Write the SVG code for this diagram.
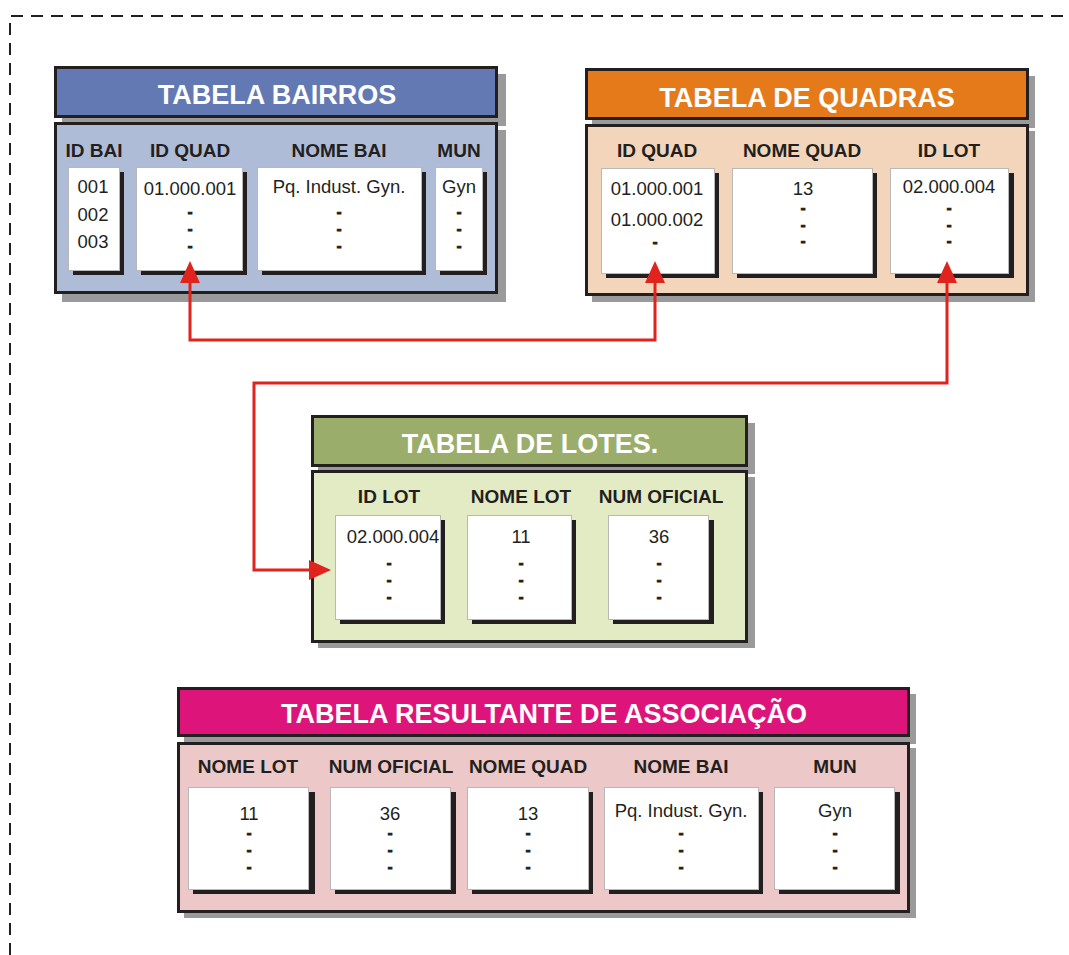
<svg xmlns="http://www.w3.org/2000/svg" width="1069" height="955" viewBox="0 0 1069 955">
<style>
.bg{fill:#ffffff}
.border{fill:none;stroke:#231f20;stroke-width:2;stroke-dasharray:12 8}
.sh{fill:#9a9a9a}
.frame{stroke:#231f20;stroke-width:3}
.title{font-family:"Liberation Sans",Arial,sans-serif;font-weight:bold;font-size:27px;fill:#ffffff;text-anchor:middle}
.hdr{font-family:"Liberation Sans",Arial,sans-serif;font-weight:bold;font-size:19px;fill:#231f20;text-anchor:middle}
.val{font-family:"Liberation Sans",Arial,sans-serif;font-size:18.5px;fill:#231f20;text-anchor:middle}
.dash{font-family:"Liberation Sans",Arial,sans-serif;font-weight:bold;font-size:14px;fill:#231f20;stroke:#231f20;stroke-width:1;text-anchor:middle}
.cell{fill:#ffffff;stroke:#b8b8b8;stroke-width:1}
.csh{fill:#231f20}
.link{fill:none;stroke:#e0231c;stroke-width:3;marker-start:url(#ah);marker-end:url(#ah)}
</style>
<defs>
<marker id="ah" markerUnits="userSpaceOnUse" markerWidth="22" markerHeight="20" refX="12" refY="10" orient="auto-start-reverse" viewBox="0 0 22 20">
<path d="M0,0 L22,10 L0,20 Z" fill="#e0231c"/>
</marker>
</defs>
<rect class="bg" x="0" y="0" width="1069" height="955"/>
<path class="border" d="M10,955 V16 H1069"/>

<g id="tabela-bairros">
<rect class="sh" x="62" y="74" width="444" height="52"/>
<rect class="sh" x="62" y="130" width="444" height="172"/>
<rect class="frame" x="55.5" y="67.5" width="441" height="49" fill="#6379b4"/>
<rect class="frame" x="55.5" y="123.5" width="441" height="169" fill="#afbcd8"/>
<text class="title" x="277" y="104">TABELA BAIRROS</text>
<text class="hdr" x="94" y="157">ID BAI</text>
<text class="hdr" x="190" y="157">ID QUAD</text>
<text class="hdr" x="339" y="157">NOME BAI</text>
<text class="hdr" x="459" y="157">MUN</text>
<rect class="csh" x="73" y="172" width="51" height="103"/>
<rect class="cell" x="68.5" y="167.5" width="51" height="103"/>
<rect class="csh" x="141" y="172" width="106" height="103"/>
<rect class="cell" x="136.5" y="167.5" width="106" height="103"/>
<rect class="csh" x="262" y="172" width="164" height="103"/>
<rect class="cell" x="257.5" y="167.5" width="164" height="103"/>
<rect class="csh" x="440" y="172" width="47" height="103"/>
<rect class="cell" x="435.5" y="167.5" width="47" height="103"/>
<text class="val" x="93" y="193">001</text>
<text class="val" x="93" y="221">002</text>
<text class="val" x="93" y="248">003</text>
<text class="val" x="190" y="195">01.000.001</text>
<text class="dash" x="190" y="216.5">-</text>
<text class="dash" x="190" y="233.5">-</text>
<text class="dash" x="190" y="250.5">-</text>
<text class="val" x="339" y="193">Pq. Indust. Gyn.</text>
<text class="dash" x="339" y="216.5">-</text>
<text class="dash" x="339" y="233.5">-</text>
<text class="dash" x="339" y="250.5">-</text>
<text class="val" x="459" y="193">Gyn</text>
<text class="dash" x="459" y="216.5">-</text>
<text class="dash" x="459" y="233.5">-</text>
<text class="dash" x="459" y="250.5">-</text>
</g>

<g id="tabela-quadras">
<rect class="sh" x="592" y="76" width="443" height="52"/>
<rect class="sh" x="592" y="131" width="443" height="171"/>
<rect class="frame" x="586.5" y="69.5" width="441" height="49" fill="#e57a1a"/>
<rect class="frame" x="586.5" y="125.5" width="441" height="169" fill="#f2d5bb"/>
<text class="title" x="807" y="107">TABELA DE QUADRAS</text>
<text class="hdr" x="657" y="157">ID QUAD</text>
<text class="hdr" x="802" y="157">NOME QUAD</text>
<text class="hdr" x="949" y="157">ID LOT</text>
<rect class="csh" x="606" y="173" width="113" height="105"/>
<rect class="cell" x="601.5" y="168.5" width="113" height="105"/>
<rect class="csh" x="737" y="173" width="140" height="105"/>
<rect class="cell" x="732.5" y="168.5" width="140" height="105"/>
<rect class="csh" x="895" y="173" width="119" height="105"/>
<rect class="cell" x="890.5" y="168.5" width="118" height="105"/>
<text class="val" x="657" y="195">01.000.001</text>
<text class="val" x="657" y="226">01.000.002</text>
<text class="dash" x="655" y="246.5">-</text>
<text class="val" x="803" y="195">13</text>
<text class="dash" x="803" y="212.5">-</text>
<text class="dash" x="803" y="229.5">-</text>
<text class="dash" x="803" y="245.5">-</text>
<text class="val" x="949" y="193">02.000.004</text>
<text class="dash" x="949" y="212.5">-</text>
<text class="dash" x="949" y="229.5">-</text>
<text class="dash" x="949" y="245.5">-</text>
</g>

<g id="tabela-lotes">
<rect class="sh" x="318" y="423" width="437" height="51"/>
<rect class="sh" x="318" y="477" width="437" height="171"/>
<rect class="frame" x="312.5" y="416.5" width="434" height="49" fill="#9aad6a"/>
<rect class="frame" x="312.5" y="471.5" width="434" height="170" fill="#e3ebc5"/>
<text class="title" x="530" y="453">TABELA DE LOTES.</text>
<text class="hdr" x="389" y="503">ID LOT</text>
<text class="hdr" x="521" y="503">NOME LOT</text>
<text class="hdr" x="661" y="503">NUM OFICIAL</text>
<rect class="csh" x="340" y="520" width="105" height="104"/>
<rect class="cell" x="335.5" y="515.5" width="105" height="104"/>
<rect class="csh" x="472" y="520" width="104" height="104"/>
<rect class="cell" x="467.5" y="515.5" width="104" height="104"/>
<rect class="csh" x="613" y="520" width="101" height="104"/>
<rect class="cell" x="608.5" y="515.5" width="100" height="104"/>
<text class="val" x="393" y="543">02.000.004</text>
<text class="dash" x="389" y="567.5">-</text>
<text class="dash" x="389" y="584.5">-</text>
<text class="dash" x="389" y="601.5">-</text>
<text class="val" x="521" y="543">11</text>
<text class="dash" x="521" y="567.5">-</text>
<text class="dash" x="521" y="584.5">-</text>
<text class="dash" x="521" y="601.5">-</text>
<text class="val" x="659" y="543">36</text>
<text class="dash" x="659" y="567.5">-</text>
<text class="dash" x="659" y="584.5">-</text>
<text class="dash" x="659" y="601.5">-</text>
</g>

<g id="tabela-resultante">
<rect class="sh" x="184" y="694" width="732" height="50"/>
<rect class="sh" x="184" y="748" width="732" height="170"/>
<rect class="frame" x="178.5" y="688.5" width="730" height="47" fill="#dd1479"/>
<rect class="frame" x="178.5" y="743.5" width="730" height="168" fill="#ecc8c8"/>
<text class="title" x="544" y="723">TABELA RESULTANTE DE ASSOCIAÇÃO</text>
<text class="hdr" x="248" y="773">NOME LOT</text>
<text class="hdr" x="391" y="773">NUM OFICIAL</text>
<text class="hdr" x="528" y="773">NOME QUAD</text>
<text class="hdr" x="681" y="773">NOME BAI</text>
<text class="hdr" x="835" y="773">MUN</text>
<rect class="csh" x="193" y="792" width="122" height="102"/>
<rect class="cell" x="188.5" y="787.5" width="120" height="102"/>
<rect class="csh" x="335" y="792" width="121" height="102"/>
<rect class="cell" x="330.5" y="787.5" width="120" height="102"/>
<rect class="csh" x="472" y="792" width="121" height="102"/>
<rect class="cell" x="467.5" y="787.5" width="121" height="102"/>
<rect class="csh" x="609" y="792" width="154" height="102"/>
<rect class="cell" x="604.5" y="787.5" width="154" height="102"/>
<rect class="csh" x="779" y="792" width="121" height="102"/>
<rect class="cell" x="774.5" y="787.5" width="120" height="102"/>
<text class="val" x="249" y="820">11</text>
<text class="dash" x="249" y="837.5">-</text>
<text class="dash" x="249" y="854.5">-</text>
<text class="dash" x="249" y="871.5">-</text>
<text class="val" x="390" y="820">36</text>
<text class="dash" x="390" y="837.5">-</text>
<text class="dash" x="390" y="854.5">-</text>
<text class="dash" x="390" y="871.5">-</text>
<text class="val" x="528" y="820">13</text>
<text class="dash" x="528" y="837.5">-</text>
<text class="dash" x="528" y="854.5">-</text>
<text class="dash" x="528" y="871.5">-</text>
<text class="val" x="681" y="817">Pq. Indust. Gyn.</text>
<text class="dash" x="681" y="837.5">-</text>
<text class="dash" x="681" y="854.5">-</text>
<text class="dash" x="681" y="871.5">-</text>
<text class="val" x="835" y="817">Gyn</text>
<text class="dash" x="835" y="837.5">-</text>
<text class="dash" x="835" y="854.5">-</text>
<text class="dash" x="835" y="871.5">-</text>
</g>

<g id="connectors">
<path class="link" d="M190,271 V340 H655 V271"/>
<path class="link" d="M947,271 V383 H254 V570 H321"/>
</g>
</svg>
